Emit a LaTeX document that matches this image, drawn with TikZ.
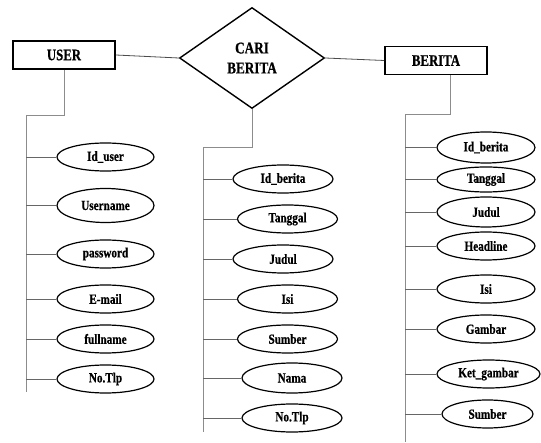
\documentclass[tikz,border=0pt]{standalone}
\usepackage{fontspec}
\newfontfamily\erdfont{Liberation Serif Bold}[FakeStretch=0.8, FakeBold=0.6]
\usetikzlibrary{shapes.geometric}

\begin{document}
\begin{tikzpicture}[x=1pt,y=-1pt,
  entity/.style={draw, line width=1.6pt, minimum width=102pt, minimum height=28pt,
    inner sep=0pt, font=\erdfont\fontsize{16}{18}\selectfont},
  rel/.style={draw, diamond, line width=1.4pt, minimum width=145pt, minimum height=101pt,
    inner sep=0pt, align=center, font=\erdfont\fontsize{16.5}{20}\selectfont},
  attr/.style={draw, ellipse, line width=1.2pt, minimum width=98pt, minimum height=28pt,
    inner sep=0pt, font=\erdfont\fontsize{14}{15}\selectfont},
  trunk/.style={draw=black!45, line width=0.9pt},
  branch/.style={draw=black!60, line width=0.8pt}]

  % page frame
  \useasboundingbox (0,0) rectangle (541,443);
  \fill[white] (0,0) rectangle (541,443);

  % entities and relationship
  \node[entity] (user) at (64,55) {USER};
  \node[rel] (cari) at (252,58) {CARI\\BERITA};
  \node[entity] (berita) at (436,60.5) {BERITA};
  \draw[black!70, line width=0.8pt] (user.east) -- (cari.west);
  \draw[black!70, line width=0.8pt] (cari.east) -- (berita.west);

  % attribute trunks
  \coordinate (ut) at (26,115);  \coordinate (ue) at (26,392);
  \coordinate (ct) at (203,147); \coordinate (ce) at (203,432);
  \coordinate (bt) at (405,114); \coordinate (be) at (405,442);
  \draw[trunk] (user.south) |- (ut) -- (ue);
  \draw[trunk] (cari.south) |- (ct) -- (ce);
  \draw[trunk] ([xshift=14pt]berita.south) |- (bt) -- (be);

  % USER attributes
  \node[attr, minimum width=97pt] (u1) at (105.5,157) {Id\_user};
  \node[attr, minimum width=97pt, minimum height=34pt] (u2) at (105.5,205.5) {Username};
  \node[attr, minimum width=97pt] (u3) at (105.5,254) {password};
  \node[attr, minimum width=97pt] (u4) at (105.5,299) {E-mail};
  \node[attr, minimum width=97pt] (u5) at (105.5,339) {fullname};
  \node[attr, minimum width=97pt] (u6) at (105.5,379) {No.Tlp};
  \foreach \a in {u1,u2,u3,u4,u5,u6}
    \draw[branch] (ut |- \a.west) -- (\a.west);

  % CARI BERITA attributes
  \node[attr, minimum width=100pt] (c1) at (283,179) {Id\_berita};
  \node[attr, minimum width=100pt] (c2) at (287.5,219) {Tanggal};
  \node[attr, minimum width=100pt] (c3) at (283,259) {Judul};
  \node[attr, minimum width=100pt] (c4) at (287.5,299) {Isi};
  \node[attr, minimum width=100pt] (c5) at (287.5,339) {Sumber};
  \node[attr, minimum width=100pt, minimum height=30pt] (c6) at (292,378) {Nama};
  \node[attr, minimum width=100pt] (c7) at (292,418) {No.Tlp};
  \foreach \a in {c1,c2,c3,c4,c5,c6,c7}
    \draw[branch] (ct |- \a.west) -- (\a.west);

  % BERITA attributes
  \node[attr, minimum height=31pt] (b1) at (486,147.5) {Id\_berita};
  \node[attr, minimum height=25pt] (b2) at (486,179.5) {Tanggal};
  \node[attr, minimum height=30pt] (b3) at (486,212) {Judul};
  \node[attr] (b4) at (486,246) {Headline};
  \node[attr] (b5) at (486,289) {Isi};
  \node[attr] (b6) at (486,329) {Gambar};
  \node[attr, minimum width=103pt] (b7) at (488.5,374) {Ket\_gambar};
  \node[attr, minimum width=91pt] (b8) at (487.5,414) {Sumber};
  \foreach \a in {b1,b2,b3,b4,b5,b6,b7,b8}
    \draw[branch] (bt |- \a.west) -- (\a.west);
\end{tikzpicture}
\end{document}
